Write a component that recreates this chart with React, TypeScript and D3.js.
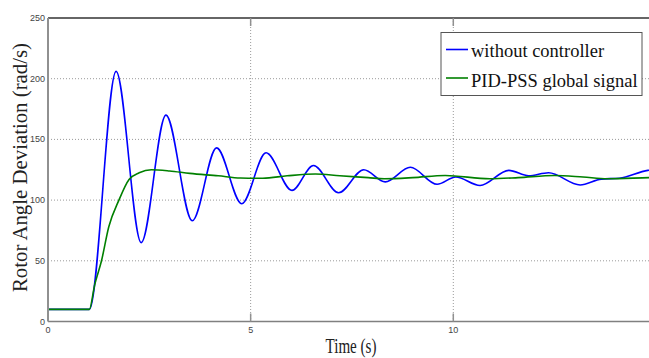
import React, { useRef, useEffect } from "react";
import * as d3 from "d3";

// values
const blueTime = [0, 1.02, 1.68, 2.3, 2.91, 3.56, 4.16, 4.78, 5.38, 6.02, 6.55, 7.17, 7.79, 8.32, 8.94, 9.6, 10.06, 10.66, 11.37, 11.86, 12.35, 13.13, 13.65, 14.1, 14.8, 15];
const blueValue = [10, 10, 206, 65, 170, 83, 143, 97, 139, 108, 128.5, 106, 125, 115, 127, 113, 119, 112, 124.5, 120, 122.5, 112.5, 117.3, 118, 124.5, 125];

const greenTime = [0, 1.02, 1.15, 1.32, 1.5, 1.75, 2.0, 2.25, 2.55, 3.0, 3.5, 4.2, 4.75, 5.3, 5.9, 6.6, 7.2, 7.9, 8.3, 9.0, 9.8, 10.9, 11.6, 12.5, 13.2, 13.8, 14.85, 15];
const greenValue = [10, 10, 30, 50, 78, 100, 117, 122.5, 125, 124, 122, 120, 118.2, 118, 120, 121.5, 120, 118.5, 117.6, 118.5, 120.3, 117.6, 118.5, 120.3, 119, 117.6, 118.5, 118.6];

const seriesNames = ["without controller", "PID-PSS global signal"];
const seriesColors = ["#0000ff", "#008000"];
const xTicks = [0, 5, 10];
const yTicks = [0, 50, 100, 150, 200, 250];

const width = 649;
const height = 358;
const left = 48;
const top = 18;
const bottom = 321.5;
const serif = "'Liberation Serif', 'Times New Roman', serif";
const sans = "'Liberation Sans', Arial, sans-serif";

const App = () => {
    const svgRef = useRef<SVGSVGElement>(null);

    useEffect(() => {
        const svg = d3.select(svgRef.current);
        svg.selectAll("*").remove();

        const x = d3.scaleLinear().domain([0, 15]).range([left, left + 15 * 40.53]);
        const y = d3.scaleLinear().domain([0, 250]).range([bottom, top]);

        svg.append("rect").attr("width", width).attr("height", height).attr("fill", "#fff");

        svg.append("clipPath").attr("id", "plotclip")
            .append("rect").attr("x", left).attr("y", top - 2)
            .attr("width", width - left).attr("height", bottom - top + 2);

        // grid
        const grid = svg.append("g").attr("stroke", "#9a9a9a").attr("stroke-dasharray", "1,2").attr("stroke-width", 1);
        grid.selectAll("line.h").data(yTicks.filter(d => d > 0 && d < 250)).join("line")
            .attr("x1", left).attr("x2", width).attr("y1", d => y(d)).attr("y2", d => y(d));
        grid.selectAll("line.v").data(xTicks.filter(d => d > 0)).join("line")
            .attr("x1", d => x(d)).attr("x2", d => x(d)).attr("y1", top).attr("y2", bottom);

        // curves
        const line = d3.line<number>()
            .x(d => x(d))
            .curve(d3.curveMonotoneX);
        const plot = svg.append("g").attr("clip-path", "url(#plotclip)");
        plot.append("path")
            .attr("d", line.y((d, i) => y(blueValue[i]))(blueTime))
            .attr("fill", "none").attr("stroke", seriesColors[0]).attr("stroke-width", 1.6);
        plot.append("path")
            .attr("d", line.y((d, i) => y(greenValue[i]))(greenTime))
            .attr("fill", "none").attr("stroke", seriesColors[1]).attr("stroke-width", 1.6);

        // frame
        svg.append("line").attr("x1", left).attr("x2", width).attr("y1", top).attr("y2", top)
            .attr("stroke", "#333").attr("stroke-width", 1.3);
        svg.append("line").attr("x1", left).attr("x2", width).attr("y1", bottom).attr("y2", bottom)
            .attr("stroke", "#808080").attr("stroke-width", 1.6);
        svg.append("line").attr("x1", left).attr("x2", left).attr("y1", top).attr("y2", bottom)
            .attr("stroke", "#909090").attr("stroke-width", 2);

        // x ticks (inward, top and bottom)
        svg.append("g").selectAll("line").data(xTicks.filter(d => d > 0)).join("line")
            .attr("x1", d => x(d)).attr("x2", d => x(d)).attr("y1", bottom).attr("y2", bottom - 8)
            .attr("stroke", "#909090").attr("stroke-width", 1.5);
        svg.append("g").selectAll("line").data(xTicks.filter(d => d > 0)).join("line")
            .attr("x1", d => x(d)).attr("x2", d => x(d)).attr("y1", top).attr("y2", top + 8)
            .attr("stroke", "#909090").attr("stroke-width", 1.5);
        svg.append("g").selectAll("text").data(xTicks).join("text")
            .attr("x", d => x(d)).attr("y", 333).attr("text-anchor", "middle")
            .attr("font-family", sans).attr("font-size", 9).attr("fill", "#444")
            .text(d => d);

        // y ticks
        svg.append("g").selectAll("text").data(yTicks).join("text")
            .attr("x", 45).attr("y", d => y(d) + 3).attr("text-anchor", "end")
            .attr("font-family", sans).attr("font-size", 9).attr("fill", "#444")
            .text(d => d);

        // axis titles
        svg.append("text")
            .attr("transform", `translate(27,167.5) rotate(-90)`)
            .attr("text-anchor", "middle")
            .attr("font-family", serif).attr("font-size", 20).attr("fill", "#222")
            .attr("textLength", 249).attr("lengthAdjust", "spacingAndGlyphs")
            .text("Rotor Angle Deviation (rad/s)");
        svg.append("text")
            .attr("x", 351).attr("y", 353).attr("text-anchor", "middle")
            .attr("font-family", serif).attr("font-size", 20).attr("fill", "#222")
            .attr("textLength", 51).attr("lengthAdjust", "spacingAndGlyphs")
            .text("Time (s)");

        // legend
        const legend = svg.append("g");
        legend.append("rect").attr("x", 441).attr("y", 32.5).attr("width", 201).attr("height", 63)
            .attr("fill", "#fff").attr("stroke", "#555").attr("stroke-width", 1);
        const rows = [49.5, 78];
        const baselines = [57, 87];
        seriesNames.forEach((name, i) => {
            legend.append("line").attr("x1", 446).attr("x2", 468).attr("y1", rows[i]).attr("y2", rows[i])
                .attr("stroke", seriesColors[i]).attr("stroke-width", 1.6);
            legend.append("text").attr("x", 471).attr("y", baselines[i])
                .attr("font-family", serif).attr("font-size", 18.5).attr("fill", "#111")
                .text(name);
        });
    }, []);

    return (
        <svg ref={svgRef} width={width} height={height}
            style={{ position: "absolute", left: 0, top: 0, display: "block" }} />
    );
};

export default App;
